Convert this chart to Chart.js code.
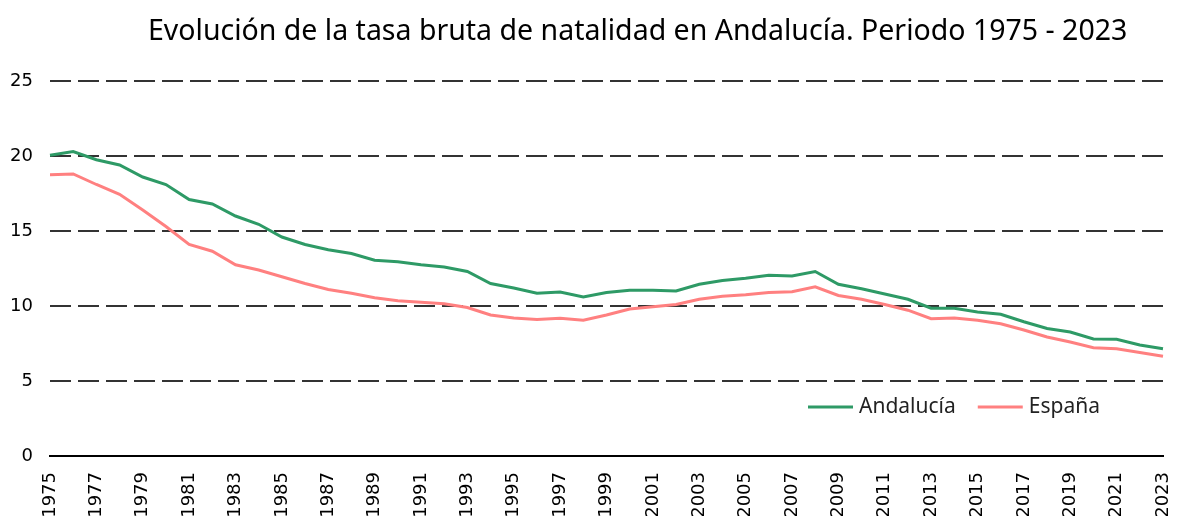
<!DOCTYPE html>
<html>
<head>
<meta charset="utf-8">
<script src="https://cdn.jsdelivr.net/npm/chart.js@4"></script>
<style>
  html, body { margin: 0; padding: 0; background: #fff; }
  #wrap { width: 1177px; height: 516px; }
</style>
</head>
<body>
<div id="wrap"><canvas id="chart" width="1177" height="516"></canvas></div>
<script>
const titleText = 'Evolución de la tasa bruta de natalidad en Andalucía. Periodo 1975 - 2023';

const years = [];
for (let y = 1975; y <= 2023; y++) years.push(String(y));

const andalucia = [
  20.05, 20.3, 19.75, 19.4, 18.6, 18.1, 17.1, 16.8, 16.0, 15.45,
  14.6, 14.1, 13.75, 13.5, 13.05, 12.95, 12.75, 12.6, 12.3, 11.5,
  11.2, 10.85, 10.93, 10.6, 10.9, 11.05, 11.05, 11.0, 11.45, 11.7,
  11.85, 12.05, 12.0, 12.3, 11.45, 11.15, 10.8, 10.45, 9.85, 9.85,
  9.6, 9.45, 8.95, 8.5, 8.27, 7.8, 7.78, 7.4, 7.15
];

const espana = [
  18.75, 18.8, 18.1, 17.45, 16.4, 15.3, 14.1, 13.65, 12.75, 12.4,
  11.95, 11.5, 11.1, 10.85, 10.55, 10.35, 10.25, 10.15, 9.9, 9.4,
  9.2, 9.1, 9.18, 9.05, 9.4, 9.8, 9.95, 10.1, 10.45, 10.65,
  10.75, 10.9, 10.95, 11.28, 10.7, 10.45, 10.1, 9.72, 9.15, 9.2,
  9.05, 8.82, 8.4, 7.93, 7.6, 7.22, 7.15, 6.9, 6.65
];

const yTicks = [0, 5, 10, 15, 20, 25];

// title and legend drawn by hand so they sit where the original has them
const extras = {
  id: 'extras',
  afterDraw(chart) {
    const ctx = chart.ctx;
    ctx.save();
    ctx.fillStyle = '#000';
    ctx.font = '28.5px "Noto Sans"';
    ctx.textBaseline = 'alphabetic';
    ctx.textAlign = 'left';
    ctx.fillText(titleText, 148, 40);

    let x = 808;
    const y = 407;
    ctx.font = '21px "Noto Sans"';
    ctx.textBaseline = 'middle';
    chart.data.datasets.forEach(ds => {
      ctx.strokeStyle = ds.borderColor;
      ctx.lineWidth = 3;
      ctx.beginPath();
      ctx.moveTo(x, y);
      ctx.lineTo(x + 45, y);
      ctx.stroke();
      ctx.fillStyle = '#222';
      ctx.fillText(ds.label, x + 51, y);
      x += 51 + ctx.measureText(ds.label).width + 22;
    });
    ctx.restore();
  }
};

new Chart(document.getElementById('chart'), {
  type: 'line',
  data: {
    labels: years,
    datasets: [
      {
        label: 'Andalucía',
        data: andalucia,
        borderColor: '#2e9a66',
        borderWidth: 3,
        pointRadius: 0,
        tension: 0
      },
      {
        label: 'España',
        data: espana,
        borderColor: '#ff8080',
        borderWidth: 3,
        pointRadius: 0,
        tension: 0
      }
    ]
  },
  options: {
    responsive: false,
    animation: false,
    layout: { padding: { top: 81, right: 14, left: 0, bottom: 0 } },
    plugins: {
      legend: { display: false },
      title: { display: false },
      tooltip: { enabled: false }
    },
    scales: {
      x: {
        offset: false,
        grid: { display: false },
        border: { display: true, color: '#000', width: 2 },
        ticks: {
          autoSkip: false,
          maxRotation: 90,
          minRotation: 90,
          padding: 8,
          color: '#000',
          font: { family: 'DejaVu Sans', size: 18 },
          callback: (v, i) => i % 2 === 0 ? years[i] : ''
        },
        afterFit: s => { s.height = 60; s.paddingLeft = 0; s.paddingRight = 0; }
      },
      y: {
        min: 0,
        max: 25,
        afterBuildTicks: s => { s.ticks = yTicks.map(v => ({ value: v })); },
        grid: {
          color: c => c.index === 0 ? 'rgba(0,0,0,0)' : '#333',
          lineWidth: 2,
          drawTicks: false
        },
        border: { display: false, dash: [21, 7] },
        ticks: {
          padding: 17,
          color: '#000',
          font: { family: 'DejaVu Sans', size: 18 }
        },
        afterFit: s => { s.width = 50; }
      }
    }
  },
  plugins: [extras]
});
</script>
</body>
</html>
